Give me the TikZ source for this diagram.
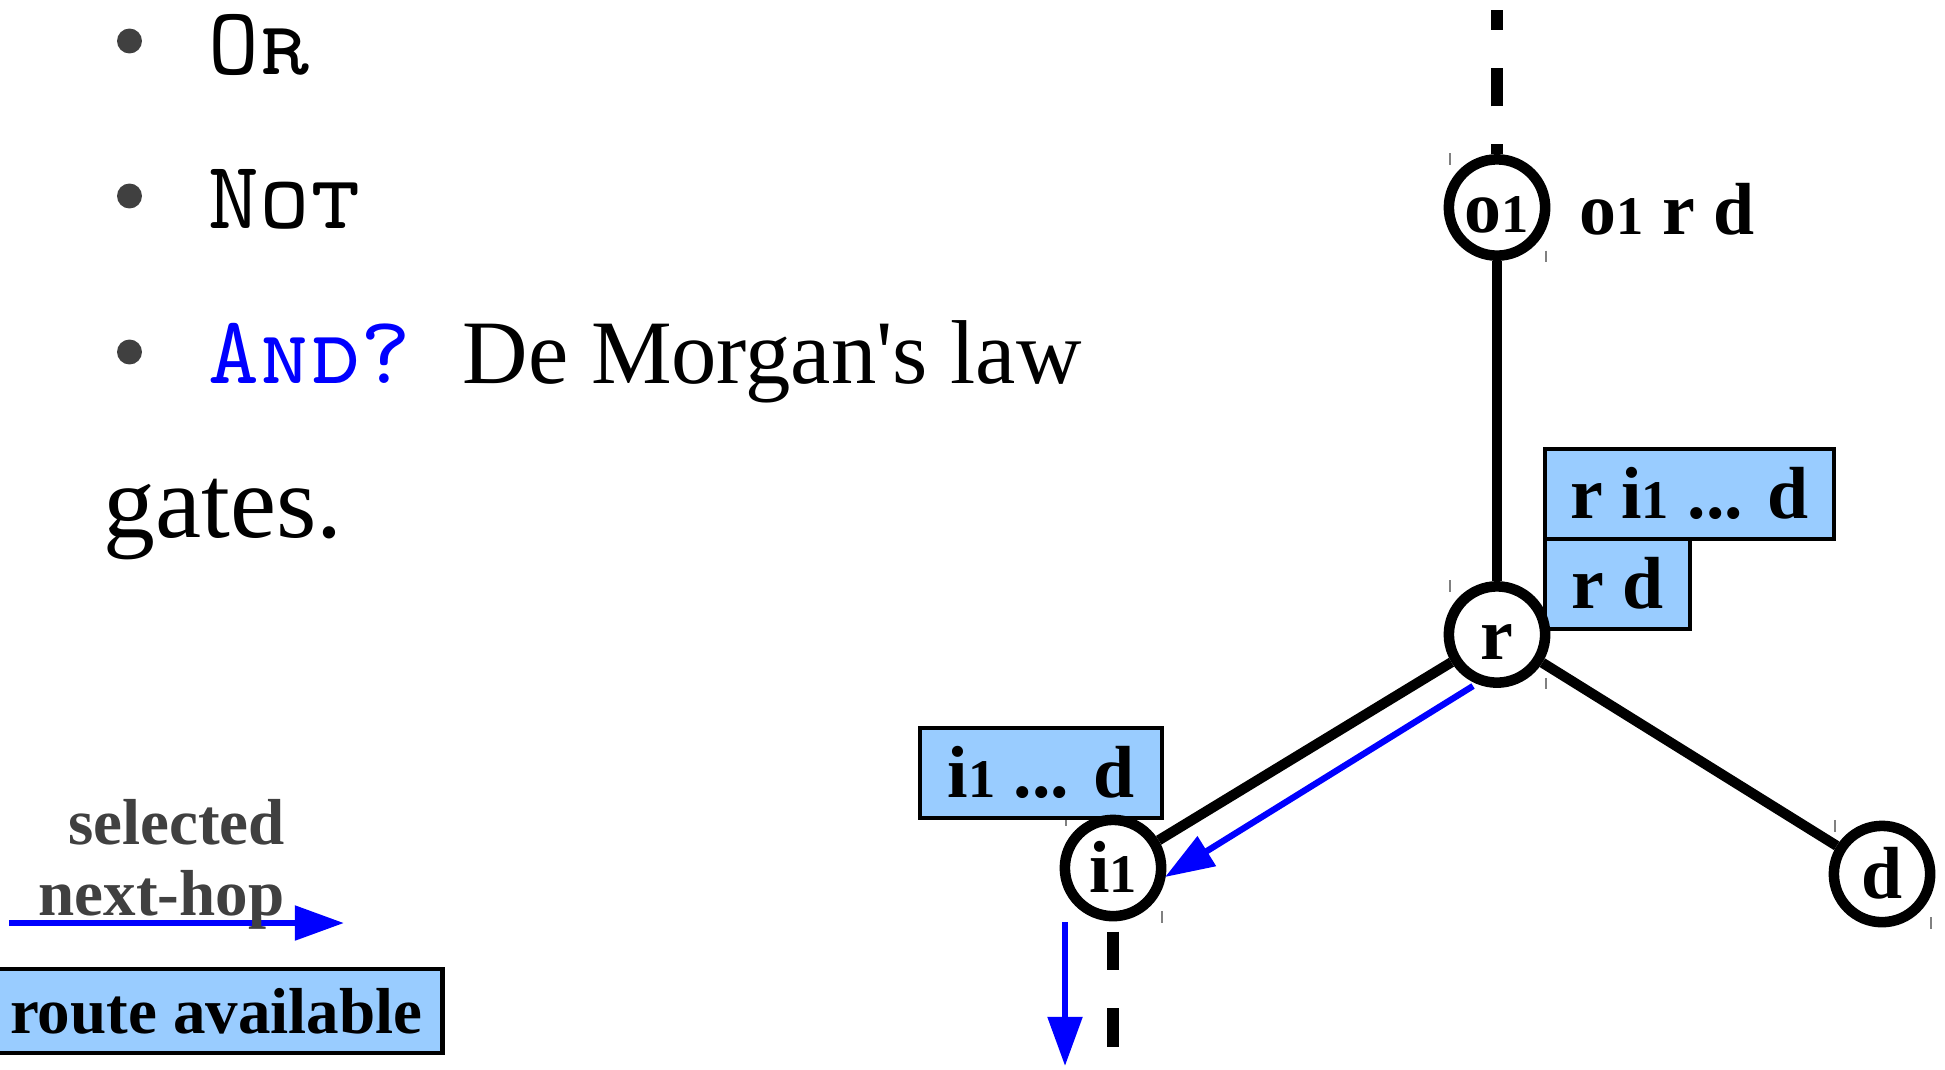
\documentclass[tikz,border=0pt]{standalone}
\usepackage{fontspec}
\setmainfont{Liberation Serif}
\usepackage{tikz}
\usetikzlibrary{arrows.meta, positioning, backgrounds}
\definecolor{routeBlue}{RGB}{153, 204, 255}
\definecolor{hopBlue}{RGB}{0, 0, 255}
\definecolor{legendGray}{RGB}{64, 64, 64}
\newcommand{\subone}{{\fontsize{15.5pt}{16pt}\selectfont 1}}

\begin{document}
\begin{tikzpicture}[x=0.1mm, y=-0.1mm,
  router/.style={circle, draw, line width=3pt, fill=white, minimum size=27.4pt, inner sep=0pt,
                 font=\fontsize{21pt}{24pt}\selectfont\bfseries, text height=14pt, text depth=0pt},
  link/.style={line width=2.9pt},
  stub/.style={line width=3.3pt, dash pattern=on 11pt off 10.8pt},
  route/.style={rectangle, draw, line width=1.2pt, fill=routeBlue, outer sep=0pt,
                inner xsep=5.7pt, inner ysep=0pt, minimum height=25.6pt,
                text height=14pt, text depth=0pt, font=\fontsize{21pt}{24pt}\selectfont\bfseries},
  hop/.style={-{Triangle[length=14pt, width=9.6pt]}, line width=1.8pt, hopBlue},
  cornermark/.style={gray, line width=0.6pt},
  gate/.style={anchor=base west, inner sep=0pt, font=\ttfamily\scshape\fontsize{27.5pt}{30pt}\selectfont},
  bullet/.style={circle, fill=legendGray, minimum size=7.1pt, inner sep=0pt},
]
  \useasboundingbox (0,0) rectangle (1945,1069);

  % the gates
  \node[bullet] (b1) at (129.5, 41) {};
  \node[bullet] (b2) at (129.5, 196) {};
  \node[bullet] (b3) at (129.5, 352) {};
  \node[gate] (orgate) at (208, 74) {Or};
  \node[gate] (notgate) at (208, 228) {Not};
  \node[gate] (andgate) at (208, 383)
    {\textcolor{hopBlue}{And?}\hspace{14.5pt}\rmfamily\fontsize{25.8pt}{28pt}\selectfont De Morgan\textquotesingle s law};
  \node[anchor=base west, inner sep=0pt, font=\fontsize{29.5pt}{32pt}\selectfont] (gates) at (103, 537) {gates.};

  % routes
  \node[route, minimum width=82.2pt, anchor=north west] (rid) at (1545, 449) {r i\subone{} ... d};
  \node[route, minimum width=41.3pt, anchor=north west] (rd) at (rid.south west) {r d};
  \node[route, minimum width=68.9pt, anchor=north west] (idbox) at (920, 728) {i\subone{} ... d};

  % routers
  \node[router] (o1) at (1497, 207.5) {o\subone};
  \node[router] (r) at (1497, 634.5) {r};
  \node[router] (i1) at (1113, 868) {i\subone};
  \node[router] (d) at (1882, 874) {d};
  \node[anchor=base west, inner sep=0pt, font=\fontsize{21pt}{24pt}\selectfont\bfseries]
    (o1tab) at (1579, 234) {o\subone{} r d};

  \begin{scope}[on background layer]
    \foreach \n in {o1, r, i1, d} {
      \draw[cornermark] ([shift={(-13.4pt,15.4pt)}]\n.center) -- ++(0,-3.4pt);
      \draw[cornermark] ([shift={(13.9pt,-12.3pt)}]\n.center) -- ++(0,-3.3pt);
    }
  \end{scope}

  \coordinate (otop) at (1497, 10);
  \coordinate (ibot) at (1113, 1048);
  \draw[link] (o1) -- (r);
  \draw[link] (r) -- (i1);
  \draw[link] (r) -- (d);
  \draw[stub, dash phase=8.2pt] (o1) -- (otop);
  \draw[stub, dash phase=18.9pt] (i1) -- (ibot);

  % next hops
  \coordinate (hopstart) at (1473, 686);
  \coordinate (hoptip) at (1165, 877);
  \draw[hop] (hopstart) -- (hoptip);
  \coordinate (downstart) at (1065, 922);
  \coordinate (downtip) at (1065, 1066);
  \draw[hop] (downstart) -- (downtip);

  % legend
  \coordinate (legstart) at (9, 923);
  \coordinate (legtip) at (344, 923);
  \draw[hop] (legstart) -- node[midway, anchor=south, yshift=-2.8pt, inner sep=0pt, align=center,
    text=legendGray, font=\fontsize{18.5pt}{20.2pt}\selectfont\bfseries] (legtxt)
    {selected\\next-hop\hspace*{8.5pt}} (legtip);
  \node[route, minimum width=128.6pt, minimum height=23.9pt, text height=12.6pt,
    font=\fontsize{18.5pt}{20.2pt}\selectfont\bfseries, anchor=west] (legbox) at (-10, 1011) {route available};
\end{tikzpicture}
\end{document}
